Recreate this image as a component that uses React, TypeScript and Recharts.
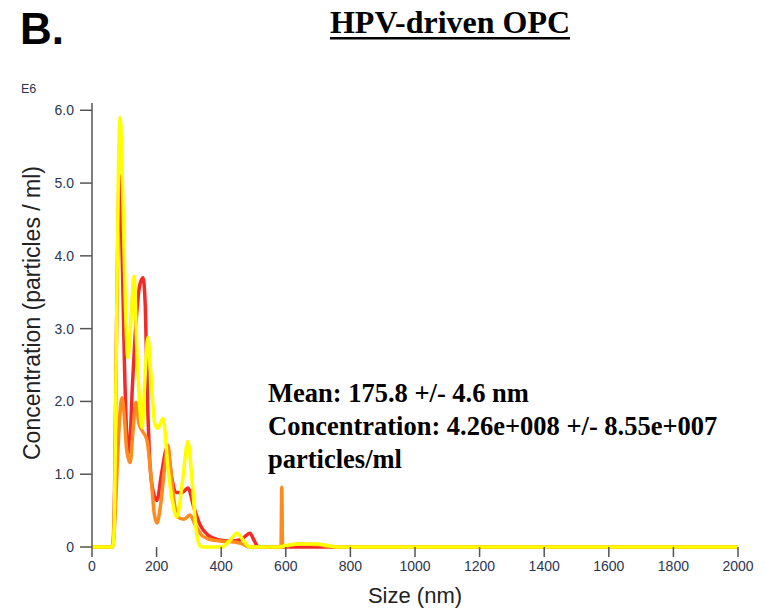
import React from 'react';
import { LineChart, Line, XAxis, YAxis } from 'recharts';

// Particle size distribution (nm) vs concentration (E6 particles / ml), three replicate tracks
const redSize = [0, 60, 65, 70, 76, 82, 86, 92, 100, 107, 115, 125, 135, 148, 158, 165, 172, 180, 190, 201, 215, 233, 245, 262, 280, 297, 315, 335, 360, 390, 430, 460, 475, 489, 503, 515, 2000];
const redConc = [0, 0, 0.05, 0.8, 3.0, 4.8, 5.1, 4.3, 2.6, 1.6, 1.3, 2.2, 3.0, 3.6, 3.7, 3.3, 2.0, 1.1, 0.75, 0.64, 1.0, 1.37, 1.0, 0.75, 0.75, 0.81, 0.55, 0.3, 0.16, 0.1, 0.08, 0.1, 0.15, 0.19, 0.08, 0, 0];

const orangeSize = [0, 64, 70, 78, 86, 93, 100, 107, 118, 127, 136, 145, 155, 170, 182, 193, 201, 213, 225, 235, 245, 255, 265, 285, 303, 320, 340, 356, 400, 440, 460, 489, 585, 587.5, 590, 610, 650, 700, 740, 2000];
const orangeConc = [0, 0, 0.3, 1.1, 1.8, 2.05, 1.8, 1.35, 1.16, 1.6, 1.99, 1.7, 1.6, 1.47, 1.0, 0.45, 0.33, 0.6, 1.1, 1.4, 1.0, 0.6, 0.41, 0.38, 0.44, 0.3, 0.16, 0.12, 0.08, 0.07, 0.05, 0, 0, 0.82, 0, 0.02, 0.04, 0.03, 0, 0];

const yellowSize = [0, 62, 66, 70, 74, 78, 82, 87, 96, 103, 111, 120, 130, 140, 155, 165, 173, 182, 194, 204, 220, 235, 250, 263, 280, 297, 310, 322, 334, 345, 400, 425, 449, 470, 489, 580, 600, 650, 700, 730, 760, 2000];
const yellowConc = [0, 0, 0.05, 0.6, 2.2, 3.8, 5.2, 5.9, 4.7, 3.4, 2.6, 3.1, 3.72, 2.6, 1.64, 2.4, 2.88, 2.4, 1.7, 1.63, 1.77, 1.1, 0.6, 0.41, 0.9, 1.45, 0.9, 0.25, 0.02, 0, 0, 0.08, 0.19, 0.08, 0, 0, 0.02, 0.04, 0.04, 0.02, 0, 0];

const sizeTicks = [0, 200, 400, 600, 800, 1000, 1200, 1400, 1600, 1800, 2000];
const concTicks = [0, 1, 2, 3, 4, 5, 6];

const toPoints = (sizes: number[], conc: number[]) => sizes.map((nm, i) => ({ nm, v: conc[i] }));

const tickStyle = { fontSize: 14, fontFamily: 'Liberation Sans, Arial, sans-serif', fill: '#2b3550' };
const axisStroke = { stroke: '#555', strokeWidth: 1.5 };

export default function App() {
  return (
    <div style={{ position: 'absolute', left: 0, top: 0, width: 766, height: 611, background: '#fff' }}>
      <LineChart width={766} height={611} margin={{ top: 103, right: 28, bottom: 0, left: 0 }}>
        {/* the zero baseline of the yellow track stands in for the x axis line */}
        <XAxis
          type="number"
          dataKey="nm"
          domain={[0, 2000]}
          ticks={sizeTicks}
          height={64}
          tickSize={10}
          tickMargin={4}
          axisLine={false}
          tickLine={axisStroke}
          tick={tickStyle}
        />
        <YAxis
          type="number"
          domain={[0, 6.1]}
          ticks={concTicks}
          width={92}
          tickSize={12}
          tickMargin={6}
          tickFormatter={(v: number) => (v === 0 ? '0' : v.toFixed(1))}
          axisLine={axisStroke}
          tickLine={axisStroke}
          tick={tickStyle}
        />
        <Line data={toPoints(redSize, redConc)} dataKey="v" type="monotone" stroke="#f42a2a" strokeWidth={3.5} dot={false} activeDot={false} isAnimationActive={false} />
        <Line data={toPoints(orangeSize, orangeConc)} dataKey="v" type="monotone" stroke="#ff8a1e" strokeWidth={3.5} dot={false} activeDot={false} isAnimationActive={false} />
        <Line data={toPoints(yellowSize, yellowConc)} dataKey="v" type="monotone" stroke="#ffff00" strokeWidth={3.5} dot={false} activeDot={false} isAnimationActive={false} />
      </LineChart>

      <svg width={766} height={611} style={{ position: 'absolute', left: 0, top: 0, pointerEvents: 'none' }}>
        <text x={20} y={44} fontSize={44} fontWeight="bold" fontFamily="Liberation Sans, Arial, sans-serif" fill="#000">B.</text>
        <text x={330} y={33} fontSize={32} fontWeight="bold" fontFamily="Liberation Serif, Times New Roman, serif" fill="#000" textLength={240} lengthAdjust="spacingAndGlyphs">HPV-driven OPC</text>
        <rect x={330} y={37} width={240} height={2.5} fill="#000" />
        <text x={21} y={93} fontSize={12.5} fontFamily="Liberation Sans, Arial, sans-serif" fill="#2b3550">E6</text>
        <text
          transform="translate(40, 313) rotate(-90)"
          textAnchor="middle"
          fontSize={23}
          fontFamily="Liberation Sans, Arial, sans-serif"
          fill="#222"
        >
          Concentration (particles / ml)
        </text>
        <text x={415} y={603} textAnchor="middle" fontSize={22} fontFamily="Liberation Sans, Arial, sans-serif" fill="#222">Size (nm)</text>
        <g fontSize={26.5} fontWeight="bold" fontFamily="Liberation Serif, Times New Roman, serif" fill="#000">
          <text x={268} y={402}>Mean: 175.8 +/- 4.6 nm</text>
          <text x={268} y={435}>Concentration: 4.26e+008 +/- 8.55e+007</text>
          <text x={268} y={468}>particles/ml</text>
        </g>
      </svg>
    </div>
  );
}
